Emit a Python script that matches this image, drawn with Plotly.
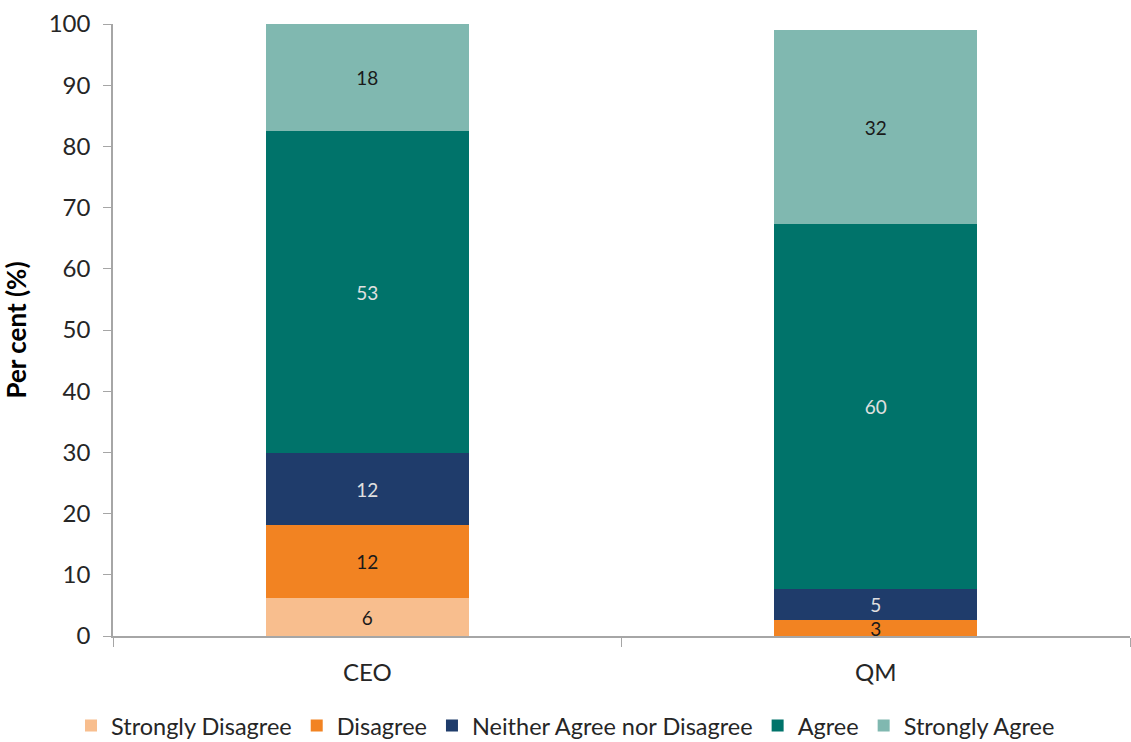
import plotly.graph_objects as go

categories = ["CEO", "QM"]
series_names = ["Strongly Disagree", "Disagree", "Neither Agree nor Disagree", "Agree", "Strongly Agree"]
strongly_disagree = [6.2, 0]
disagree = [11.9, 2.6]
neither = [11.8, 5.1]
agree = [52.6, 59.6]
strongly_agree = [17.5, 31.7]
y_ticks = [0, 10, 20, 30, 40, 50, 60, 70, 80, 90, 100]

colors = ["#F8BE8E", "#F28322", "#1F3C6B", "#00736A", "#80B8B0"]
text_colors = ["#1a1a1a", "#1a1a1a", "#E0E0E0", "#E0E0E0", "#1a1a1a"]
series = [strongly_disagree, disagree, neither, agree, strongly_agree]

FONT = "Lato"
fig = go.Figure()
for name, vals, c, tc in zip(series_names, series, colors, text_colors):
    texts = [f"{v:.0f}" if v > 0 else "" for v in vals]
    fig.add_trace(go.Bar(
        x=categories, y=vals, name=name, marker_color=c,
        marker_line_width=0,
        text=texts, texttemplate="%{text}", textposition="inside",
        insidetextanchor="middle", textangle=0,
        textfont=dict(family=FONT, size=19, color=tc),
        cliponaxis=False,
    ))

fig.update_layout(
    barmode="stack",
    bargap=0.6,
    width=1131, height=742,
    margin=dict(l=113, r=1, t=24, b=106, autoexpand=False),
    plot_bgcolor="white", paper_bgcolor="white",
    font=dict(family=FONT, size=20, color="#262626"),
    uniformtext=dict(minsize=19, mode="show"),
    showlegend=True,
    legend=dict(orientation="h", xref="container", yref="container",
                x=0.5, xanchor="center", y=0.022, yanchor="middle",
                font=dict(family=FONT, size=23.5, color="#262626"),
                itemwidth=30, traceorder="normal", itemclick=False),
    xaxis=dict(showline=True, linecolor="#A6A6A6", linewidth=1.5, automargin=False,
               ticks="outside", tickson="boundaries", ticklen=9, tickcolor="#A6A6A6",
               ticklabelstandoff=14,
               tickfont=dict(family=FONT, size=24, color="#262626"), showgrid=False),
    yaxis=dict(range=[0, 100], tickvals=y_ticks, showline=True, linecolor="#A6A6A6", linewidth=1.5,
               automargin=False,
               ticks="outside", ticklen=8, tickcolor="#A6A6A6", showgrid=False, zeroline=False,
               ticklabelstandoff=8,
               tickfont=dict(family=FONT, size=24, color="#262626"),
               title=dict(text="<b>Per cent (%)</b>", font=dict(family=FONT, size=26, color="#000000"), standoff=17)),
)

fig.write_html("out.html", config={"displayModeBar": False},
               post_script="document.body.style.margin='0';document.body.style.overflow='hidden';")
